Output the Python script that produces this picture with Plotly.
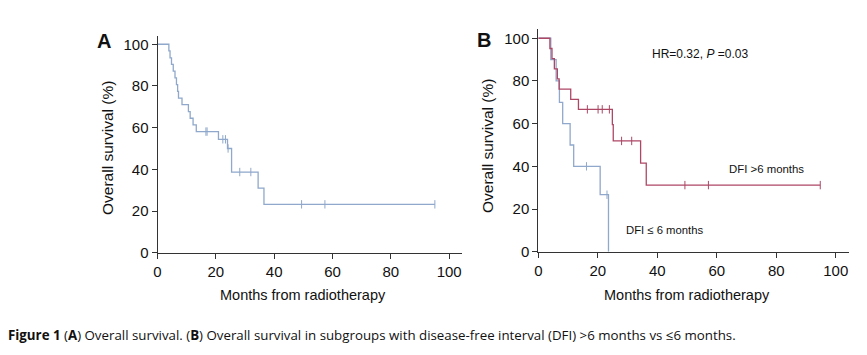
import plotly.graph_objects as go

# Panel A: overall survival (step points)
a_time = [0, 3.9, 4.3, 4.8, 5.4, 6.0, 6.5, 6.9, 7.2, 8.4, 10.6, 11.2, 12.2, 13.3, 20.9, 24.0, 25.4, 34.5, 36.5, 95.1]
a_surv = [100, 96.8, 93.5, 90.3, 87.1, 83.9, 80.6, 77.4, 74.2, 71.0, 67.7, 64.5, 61.3, 58.1, 54.4, 50.0, 38.7, 31.0, 23.2, 23.2]
a_cens_t = [16.6, 17.0, 22.4, 23.3, 24.2, 28.2, 32.0, 49.4, 57.4, 95.1]
a_cens_s = [58.1, 58.1, 54.4, 54.4, 50.0, 38.7, 38.7, 23.2, 23.2, 23.2]

# Panel B: DFI > 6 months
r_time = [0, 3.9, 4.6, 5.4, 6.4, 7.0, 10.9, 13.5, 24.9, 25.2, 34.4, 36.3, 94.8]
r_surv = [100, 95.2, 90.5, 85.7, 81.0, 76.2, 71.4, 66.7, 59.5, 51.9, 41.5, 31.2, 31.2]
r_cens_t = [16.5, 20.1, 21.5, 23.9, 28.0, 31.4, 49.3, 57.2, 94.8]
r_cens_s = [66.7, 66.7, 66.7, 66.7, 51.9, 51.9, 31.2, 31.2, 31.2]

# Panel B: DFI <= 6 months
b_time = [0, 4.2, 6.0, 7.1, 8.2, 10.7, 11.9, 20.8, 23.6]
b_surv = [100, 90, 80, 70, 60, 50, 40, 26.7, 0]
b_cens_t = [16.2, 23.1]
b_cens_s = [40, 26.7]

x_ticks = [0, 20, 40, 60, 80, 100]
y_ticks = [0, 20, 40, 60, 80, 100]

BLUE = "#8fa8cb"
RED = "#ad4765"
FONT = "Liberation Sans, Arial, sans-serif"

fig = go.Figure()

def km(t, s, color, xa, ya):
    fig.add_trace(go.Scatter(x=t, y=s, mode="lines", line=dict(color=color, width=1.3, shape="hv"),
                             xaxis=xa, yaxis=ya, showlegend=False, hoverinfo="skip"))

def cens(t, s, color, xa, ya):
    fig.add_trace(go.Scatter(x=t, y=s, mode="markers",
                             marker=dict(symbol="line-ns-open", size=6, color=color,
                                         line=dict(color=color, width=1)),
                             xaxis=xa, yaxis=ya, showlegend=False, hoverinfo="skip"))

km(a_time, a_surv, BLUE, "x", "y")
cens(a_cens_t, a_cens_s, BLUE, "x", "y")
km(b_time, b_surv, BLUE, "x2", "y2")
cens(b_cens_t, b_cens_s, BLUE, "x2", "y2")
km(r_time, r_surv, RED, "x2", "y2")
cens(r_cens_t, r_cens_s, RED, "x2", "y2")

# page has an 8px body margin; work in page pixels and convert
OFF = 8
W, H = 867 - OFF, 355 - OFF

def px_x(p):
    return (p - OFF) / W

def px_y(p):
    return 1 - (p - OFF) / H

axis_common = dict(showline=True, linecolor="#333333", linewidth=1, ticks="outside", ticklen=5,
                   tickcolor="#333333", showgrid=False, zeroline=False,
                   tickfont=dict(family=FONT, size=15, color="#111111"))

fig.update_layout(
    width=W, height=H, margin=dict(l=0, r=0, t=0, b=0, autoexpand=False),
    paper_bgcolor="white", plot_bgcolor="white",
    xaxis=dict(domain=[px_x(157.5), px_x(461.7)], range=[0, 104.3], tickvals=x_ticks,
               anchor="y", **axis_common),
    yaxis=dict(domain=[px_y(252.7), px_y(35.5)], range=[0, 104.2], tickvals=y_ticks,
               anchor="x", **axis_common),
    xaxis2=dict(domain=[px_x(538.3), px_x(848.5)], range=[0, 104.3], tickvals=x_ticks,
                anchor="y2", **axis_common),
    yaxis2=dict(domain=[px_y(251.7), px_y(29.3)], range=[0, 104.2], tickvals=y_ticks,
                anchor="x2", **axis_common),
)

def ann(text, x, y, size=14, xanchor="center", yanchor="middle", angle=0, family=FONT, color="#111111"):
    fig.add_annotation(text=text, x=px_x(x), y=px_y(y), xref="paper", yref="paper",
                       xanchor=xanchor, yanchor=yanchor, showarrow=False, textangle=angle,
                       font=dict(family=family, size=size, color=color))

# axis titles
ann("Overall survival (%)", 107, 148, size=15.5, angle=-90)
ann("Overall survival (%)", 487, 146, size=15.5, angle=-90)
ann("Months from radiotherapy", 303, 295, size=14.5)
ann("Months from radiotherapy", 687, 295, size=14.5)

# panel letters
ann("<b>A</b>", 104, 41, size=20)
ann("<b>B</b>", 484, 40, size=20)

# in-plot text
ann("HR=0.32, <i>P</i> =0.03", 700, 54, size=12)
ann("DFI &gt;6 months", 766, 169, size=11.4)
ann("DFI \u2264 6 months", 664, 230, size=11.3)

# caption
ann("<b>Figure 1</b> (<b>A</b>) Overall survival. (<b>B</b>) Overall survival in subgroups with disease-free interval (DFI) &gt;6 months vs \u22646 months.",
    6, 335, size=13.3, xanchor="left", family="Open Sans, sans-serif", color="#111111")

fig.write_html("out.html")
